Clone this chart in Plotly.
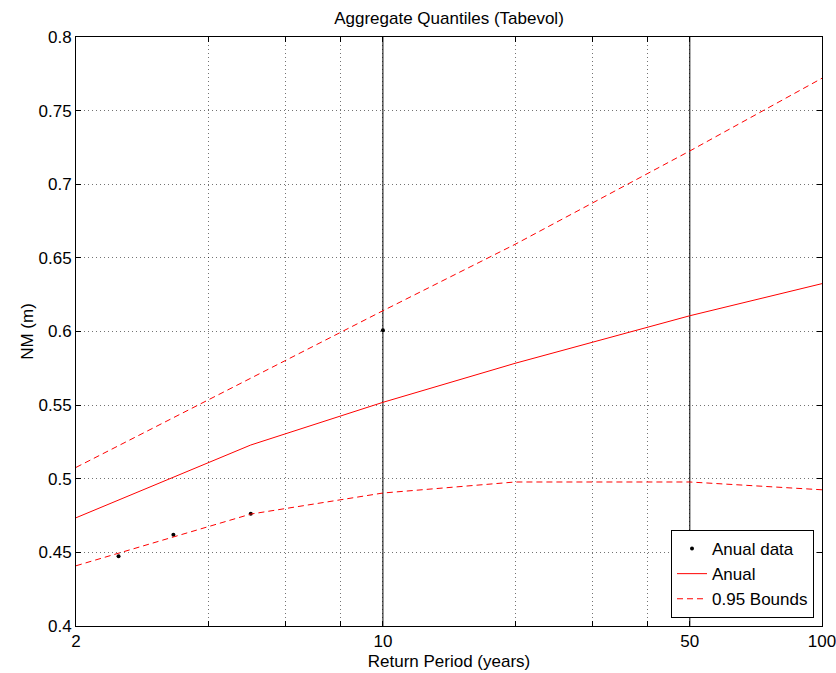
import plotly.graph_objects as go

# Return periods (years) at which quantiles are evaluated
return_period = [2, 5, 10, 20, 50, 100]
anual = [0.4735, 0.5229, 0.5519, 0.5784, 0.6107, 0.6325]
upper_bound = [0.5077, 0.5684, 0.6141, 0.6592, 0.7226, 0.7720]
lower_bound = [0.4409, 0.4760, 0.4903, 0.4978, 0.4978, 0.4925]

# Annual data (plotting positions)
data_period = [2.5, 3.333, 5.0, 10.0]
data_value = [0.4473, 0.4620, 0.4762, 0.6008]

# Reference vertical lines
ref_periods = [10, 50]
y_range = [0.4, 0.8]

x_tickvals = [2, 4, 6, 8, 10, 20, 30, 40, 50, 100]
x_ticktext = ["2", "", "", "", "10", "", "", "", "50", "100"]
y_tickvals = [0.4, 0.45, 0.5, 0.55, 0.6, 0.65, 0.7, 0.75, 0.8]
y_ticktext = ["0.4", "0.45", "0.5", "0.55", "0.6", "0.65", "0.7", "0.75", "0.8"]

FONT = "Liberation Sans, Arial, sans-serif"
FS = 17

fig = go.Figure()

for rp in ref_periods:
    fig.add_trace(go.Scatter(x=[rp, rp], y=y_range, mode="lines",
                             line=dict(color="black", width=1),
                             showlegend=False, hoverinfo="skip"))

fig.add_trace(go.Scatter(x=data_period, y=data_value, mode="markers",
                         marker=dict(color="black", size=4, symbol="circle"),
                         name="Anual data"))
fig.add_trace(go.Scatter(x=return_period, y=anual, mode="lines",
                         line=dict(color="#ff0000", width=1),
                         name="Anual"))
fig.add_trace(go.Scatter(x=return_period, y=upper_bound, mode="lines",
                         line=dict(color="#ff0000", width=1, dash="6px,4px"),
                         name="0.95 Bounds", legendgroup="b"))
fig.add_trace(go.Scatter(x=return_period, y=lower_bound, mode="lines",
                         line=dict(color="#ff0000", width=1, dash="6px,4px"),
                         name="0.95 Bounds", legendgroup="b", showlegend=False))

fig.update_layout(
    width=836, height=673,
    margin=dict(l=76, r=14, t=37, b=47, pad=0),
    paper_bgcolor="white", plot_bgcolor="white",
    font=dict(family=FONT, size=FS, color="black"),
    title=dict(text="Aggregate Quantiles (Tabevol)", x=449 / 836, xanchor="center",
               y=1 - 18 / 673, yanchor="middle", font=dict(size=FS)),
    showlegend=True,
    legend=dict(x=1 - 8 / 746, xanchor="right", y=8 / 589, yanchor="bottom",
                bgcolor="white", bordercolor="black", borderwidth=1,
                font=dict(size=FS), tracegroupgap=0,
                entrywidth=120, entrywidthmode="pixels"),
)

fig.update_xaxes(
    type="log", range=[0.30103, 2.0], automargin=False,
    tickvals=x_tickvals, ticktext=x_ticktext, ticklabeloverflow="allow",
    ticks="inside", ticklen=5, tickcolor="black",
    showline=True, linecolor="black", linewidth=1, mirror="ticks",
    showgrid=True, gridcolor="rgba(0,0,0,0.55)", griddash="1px,3px", gridwidth=1,
    zeroline=False,
    title=dict(text="Return Period (years)", font=dict(size=FS), standoff=4),
    tickfont=dict(size=FS),
)
fig.update_yaxes(
    range=y_range, automargin=False,
    tickvals=y_tickvals, ticktext=y_ticktext, ticklabeloverflow="allow",
    ticks="inside", ticklen=5, tickcolor="black",
    showline=True, linecolor="black", linewidth=1, mirror="ticks",
    showgrid=True, gridcolor="rgba(0,0,0,0.55)", griddash="1px,3px", gridwidth=1,
    zeroline=False,
    title=dict(text="NM (m)", font=dict(size=FS), standoff=0),
    tickfont=dict(size=FS),
)

fig.write_html("out.html")
